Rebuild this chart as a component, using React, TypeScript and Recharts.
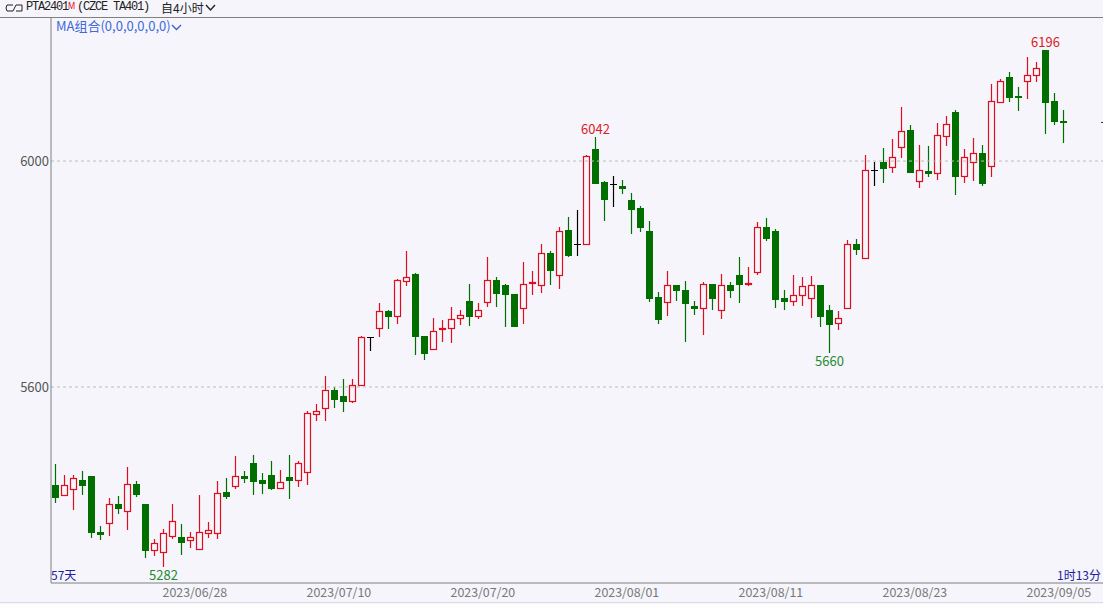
import React from "react";
import { ComposedChart, Bar, XAxis, YAxis, ReferenceLine, ReferenceDot } from "recharts";

const opens = [5426,5408,5419,5436,5442,5344,5360,5393,5380,5428,5393,5311,5307,5337,5335,5330,5314,5342,5341,5414,5424,5442,5465,5435,5444,5422,5441,5435,5450,5553,5562,5594,5584,5576,5604,5688,5704,5735,5725,5787,5800,5691,5667,5702,5704,5722,5752,5725,5750,5789,5781,5765,5740,5784,5780,5838,5798,5878,5854,5854,6021,5963,5959,5956,5931,5917,5876,5759,5750,5781,5772,5744,5739,5782,5736,5780,5798,5782,5804,5884,5876,5757,5753,5763,5757,5781,5736,5714,5739,5854,5828,5985,5999,5989,6024,6055,5964,5982,5978,6044,6087,5973,5999,6014,5991,6104,6149,6116,6141,6153,6196,6106,6071];
const closes = [5406,5426,5438,5427,5344,5340,5392,5386,5428,5411,5312,5323,5341,5362,5326,5334,5344,5346,5413,5407,5442,5439,5434,5430,5422,5431,5436,5465,5554,5557,5594,5578,5576,5603,5688,5688,5734,5726,5789,5794,5691,5661,5699,5704,5720,5727,5725,5736,5789,5767,5765,5708,5783,5786,5838,5807,5877,5834,5854,6009,5962,5933,5959,5953,5915,5884,5758,5721,5780,5771,5748,5740,5782,5758,5780,5771,5783,5784,5884,5864,5756,5753,5762,5778,5780,5726,5712,5723,5854,5845,5985,5985,5988,6007,6054,5981,5984,5979,6046,6065,5974,6008,6014,5962,6106,6141,6114,6114,6153,6164,6105,6071,6069];
const highs = [5464,5444,5444,5451,5442,5354,5403,5407,5458,5433,5393,5331,5348,5392,5358,5343,5409,5361,5433,5439,5478,5451,5479,5447,5469,5453,5479,5469,5557,5570,5620,5600,5614,5615,5690,5689,5748,5736,5792,5841,5801,5691,5722,5719,5741,5736,5782,5748,5830,5794,5783,5765,5822,5805,5854,5840,5883,5901,5913,6011,6042,5965,5973,5966,5943,5920,5894,5769,5805,5781,5788,5752,5785,5783,5800,5785,5830,5812,5892,5899,5879,5772,5798,5795,5796,5781,5745,5734,5861,5862,6011,5998,6023,6039,6095,6063,6028,6027,6068,6079,6090,6021,6040,6028,6136,6146,6157,6131,6184,6175,6196,6120,6090];
const lows = [5395,5408,5383,5409,5333,5329,5337,5375,5346,5406,5298,5300,5282,5331,5302,5315,5314,5333,5331,5402,5420,5430,5409,5411,5418,5422,5402,5423,5427,5539,5539,5563,5556,5572,5604,5663,5689,5703,5712,5778,5657,5647,5667,5680,5677,5710,5708,5720,5742,5742,5707,5707,5712,5763,5767,5781,5774,5831,5832,5852,5960,5893,5919,5942,5871,5875,5751,5712,5726,5752,5679,5727,5692,5736,5720,5758,5749,5778,5799,5859,5740,5736,5744,5744,5723,5707,5660,5701,5739,5834,5828,5955,5962,5978,6006,5981,5953,5972,5967,6027,5939,5962,5965,5955,5972,6103,6105,6089,6110,6140,6048,6063,6032];

const tickBars = [12, 28, 44, 60, 76, 92, 108];
const tickLabels = ["2023/06/28", "2023/07/10", "2023/07/20", "2023/08/01", "2023/08/11", "2023/08/23", "2023/09/05"];
const priceTicks = [5600, 6000];

// the four marked extremes
const marks = [
  { bar: 12, value: 5282, color: "#1e8a2e", pos: "bottom" },
  { bar: 60, value: 6042, color: "#e01a28", pos: "top" },
  { bar: 86, value: 5660, color: "#1e8a2e", pos: "bottom" },
  { bar: 110, value: 6196, color: "#e01a28", pos: "top" },
];

const emptySlots = 4; // room right of the last candle

const data: any[] = opens.map((o, i) => ({
  bar: i,
  open: o,
  close: closes[i],
  high: highs[i],
  low: lows[i],
  range: [lows[i], highs[i]],
}));
for (let i = 0; i < emptySlots; i++) data.push({ bar: opens.length + i, range: null });

const BG = "#f5f5fb";
const RED = "#e00d1e";
const GREEN = "#006f00";
const CJK = '"Noto Sans CJK SC", "Noto Sans", sans-serif';
const MONO = '12px "Liberation Mono", monospace';

function Candle(props: any) {
  const { x, y, width, height, payload } = props;
  if (!payload || payload.high == null) return null;
  const { open, close, high, low } = payload;
  const yOf = (p: number) => y + ((high - p) / (high - low)) * height;
  const cx = x + width / 2;
  const top = Math.round(yOf(Math.max(open, close)));
  const bottom = Math.round(yOf(Math.min(open, close)));
  const color = close > open ? RED : close < open ? GREEN : "#000";
  const wick = <line x1={cx} x2={cx} y1={Math.round(yOf(high))} y2={Math.round(yOf(low))} stroke={color} strokeWidth={1.2} />;
  if (close === open) {
    return (
      <g>
        {wick}
        <line x1={x} x2={x + width} y1={top + 0.5} y2={top + 0.5} stroke={color} />
      </g>
    );
  }
  return (
    <g>
      {wick}
      {close > open ? (
        <rect x={x + 0.5} y={top + 0.5} width={width - 1} height={Math.max(bottom - top, 1)} fill={BG} stroke={color} strokeWidth={1.2} />
      ) : (
        <rect x={x} y={top} width={width} height={Math.max(bottom - top + 1, 2)} fill={color} />
      )}
    </g>
  );
}

function DateTick({ x, y, payload }: any) {
  const label = tickLabels[tickBars.indexOf(payload.value)];
  return (
    <text x={x - 1} y={y + 6} textAnchor="start" fontSize={12.4} fontFamily={CJK} fill="#777">
      {label}
    </text>
  );
}

function Header() {
  return (
    <>
      <svg style={{ position: "absolute", left: 5, top: 3 }} width={18} height={11}>
        <polyline points="8,2 2,2 1,5 2,8 8,8 11,2 17,2 17,8 11,8" fill="none" stroke="#222" />
      </svg>
      <div style={{ position: "absolute", left: 26, top: 0, font: MONO, letterSpacing: -1.2, lineHeight: "15px", color: "#222", whiteSpace: "pre" }}>
        PTA2401
      </div>
      <div style={{ position: "absolute", left: 68, top: -1, font: '8px "Noto Sans", sans-serif', lineHeight: "14px", color: RED }}>M</div>
      <div style={{ position: "absolute", left: 77, top: 0, font: MONO, letterSpacing: -1.2, lineHeight: "15px", color: "#222", whiteSpace: "pre" }}>
        (CZCE TA401)
      </div>
      <div style={{ position: "absolute", left: 161, top: 0, font: `12px ${CJK}`, lineHeight: "15px", color: "#222" }}>自4小时</div>
      <svg style={{ position: "absolute", left: 205, top: 4 }} width={11} height={8}>
        <polyline points="1,1 5.5,6 10,1" fill="none" stroke="#222" strokeWidth={1.4} />
      </svg>
      <div style={{ position: "absolute", left: 56, top: 17, font: `13px ${CJK}`, lineHeight: "17px", color: "#4169d8", whiteSpace: "nowrap" }}>MA组合(0,0,0,0,0,0)</div>
      <svg style={{ position: "absolute", left: 171, top: 24 }} width={11} height={7}>
        <polyline points="1,1 5.5,5.5 10,1" fill="none" stroke="#3a5fd0" strokeWidth={1.4} />
      </svg>
      <div style={{ position: "absolute", left: 51, top: 566, font: `12px ${CJK}`, lineHeight: "17px", color: "#2020a0" }}>57天</div>
      <div style={{ position: "absolute", left: 1057, top: 566, font: `12px ${CJK}`, lineHeight: "17px", color: "#2020a0", whiteSpace: "nowrap" }}>1时13分</div>
      <div style={{ position: "absolute", left: 1101, top: 122, width: 2, height: 1, background: "#114411" }} />
      <div style={{ position: "absolute", left: 0, top: 602, width: 1103, height: 1, background: "#dcdce2" }} />
    </>
  );
}

export default function App() {
  return (
    <div style={{ position: "absolute", left: 0, top: 0, width: 1103, height: 604, overflow: "hidden", background: BG }}>
      <ComposedChart
        width={1104}
        height={604}
        data={data}
        margin={{ top: 17, right: 0, bottom: 0, left: 0 }}
        style={{ position: "absolute", left: 0, top: 0 }}
      >
        <XAxis
          dataKey="bar"
          type="category"
          ticks={tickBars}
          interval={0}
          height={21}
          tick={<DateTick />}
          tickLine={false}
          axisLine={{ stroke: "#808080" }}
        />
        <YAxis
          width={51}
          type="number"
          domain={[5253, 6255]}
          ticks={priceTicks}
          tick={{ fill: "#555", fontSize: 13, fontFamily: CJK, dx: 6 }}
          tickLine={false}
          axisLine={{ stroke: "#808080" }}
          allowDataOverflow
        />
        {priceTicks.map((p) => (
          <ReferenceLine key={p} y={p} stroke="#bdbdbd" strokeDasharray="3 3" />
        ))}
        <Bar dataKey="range" barSize={7} shape={<Candle />} isAnimationActive={false} />
        {marks.map((m) => (
          <ReferenceDot
            key={m.bar}
            x={m.bar}
            y={m.value}
            r={0}
            stroke="none"
            label={{ value: String(m.value), position: m.pos as any, fill: m.color, fontSize: 13, fontFamily: CJK, offset: m.pos === "top" ? 3 : 4 }}
          />
        ))}
      </ComposedChart>
      <div style={{ position: "absolute", left: 0, top: 17, width: 1103, height: 1, background: "#808080" }} />
      <Header />
    </div>
  );
}
